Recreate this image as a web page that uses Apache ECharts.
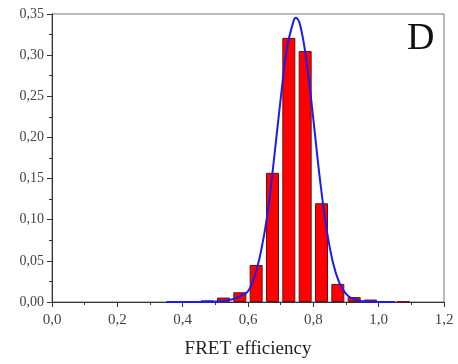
<!DOCTYPE html>
<html>
<head>
<meta charset="utf-8">
<script src="https://cdn.jsdelivr.net/npm/echarts@6/dist/echarts.min.js"></script>
<style>
  html, body { margin: 0; padding: 0; background: #fff; }
  #chart { width: 458px; height: 364px; }
</style>
</head>
<body>
<div id="chart"></div>
<script>
// histogram bins (centre of each 0.05 bin) and their heights
const binCenters = [0.375, 0.425, 0.475, 0.525, 0.575, 0.625, 0.675, 0.725, 0.775, 0.825, 0.875, 0.925, 0.975, 1.025, 1.075]
const binHeights = [0.0005, 0.0008, 0.002, 0.0054, 0.0118, 0.045, 0.157, 0.321, 0.305, 0.12, 0.022, 0.006, 0.003, 0.001, 0.0005]

// fitted curve, points
const fitX = [0.35, 0.45, 0.50, 0.55, 0.58, 0.60, 0.62, 0.64, 0.66, 0.68, 0.70, 0.72, 0.74, 0.746, 0.76, 0.78, 0.80, 0.82, 0.84, 0.86, 0.88, 0.90, 0.92, 0.95, 1.00, 1.05]
const fitY = [0.000, 0.000, 0.0005, 0.003, 0.008, 0.013, 0.031, 0.062, 0.108, 0.175, 0.247, 0.310, 0.342, 0.3455, 0.336, 0.290, 0.222, 0.150, 0.090, 0.048, 0.023, 0.010, 0.004, 0.001, 0.000, 0.000]

const xTicks = [0, 1.2, 0.2]
const yTicks = [0, 0.35, 0.05]

const font = 'Liberation Serif'
const comma = (v, d) => v.toFixed(d).replace('.', ',')

const chart = echarts.init(document.getElementById('chart'))
chart.setOption({
  animation: false,
  textStyle: { fontFamily: font },
  grid: {
    left: 52, right: 14, top: 14, bottom: 62,
    show: true, borderColor: '#777', borderWidth: 1
  },
  xAxis: {
    type: 'value',
    min: xTicks[0], max: xTicks[1], interval: xTicks[2],
    name: 'FRET efficiency',
    nameLocation: 'middle',
    nameGap: 38,
    nameTextStyle: { fontFamily: font, fontSize: 19, color: '#222' },
    axisLine: { show: true, lineStyle: { color: '#333', width: 1 } },
    axisTick: { show: true, inside: false, length: 5, lineStyle: { color: '#333' } },
    minorTick: { show: true, splitNumber: 2, length: 3, lineStyle: { color: '#333' } },
    splitLine: { show: false },
    axisLabel: {
      fontFamily: font, fontSize: 15, color: '#444', margin: 11,
      formatter: v => comma(v, 1)
    }
  },
  yAxis: {
    type: 'value',
    min: yTicks[0], max: yTicks[1], interval: yTicks[2],
    axisLine: { show: true, lineStyle: { color: '#333', width: 1 } },
    axisTick: { show: true, inside: false, length: 5, lineStyle: { color: '#333' } },
    minorTick: { show: true, splitNumber: 2, length: 3, lineStyle: { color: '#333' } },
    splitLine: { show: false },
    axisLabel: {
      fontFamily: font, fontSize: 14, color: '#444', margin: 8,
      formatter: v => comma(v, 2)
    }
  },
  graphic: [{
    type: 'text',
    left: 407, top: 20,
    style: { text: 'D', font: '38px "Liberation Serif"', fill: '#111' }
  }],
  series: [
    {
      type: 'bar',
      data: binCenters.map((x, i) => [x, binHeights[i]]),
      barWidth: 13,
      itemStyle: { color: '#ff0000', borderColor: '#6b1010', borderWidth: 1 },
      z: 2
    },
    {
      type: 'line',
      data: fitX.map((x, i) => [x, fitY[i]]),
      smooth: 0.4,
      showSymbol: false,
      lineStyle: { color: '#1c1cf0', width: 2 },
      z: 3
    }
  ]
})
</script>
</body>
</html>
